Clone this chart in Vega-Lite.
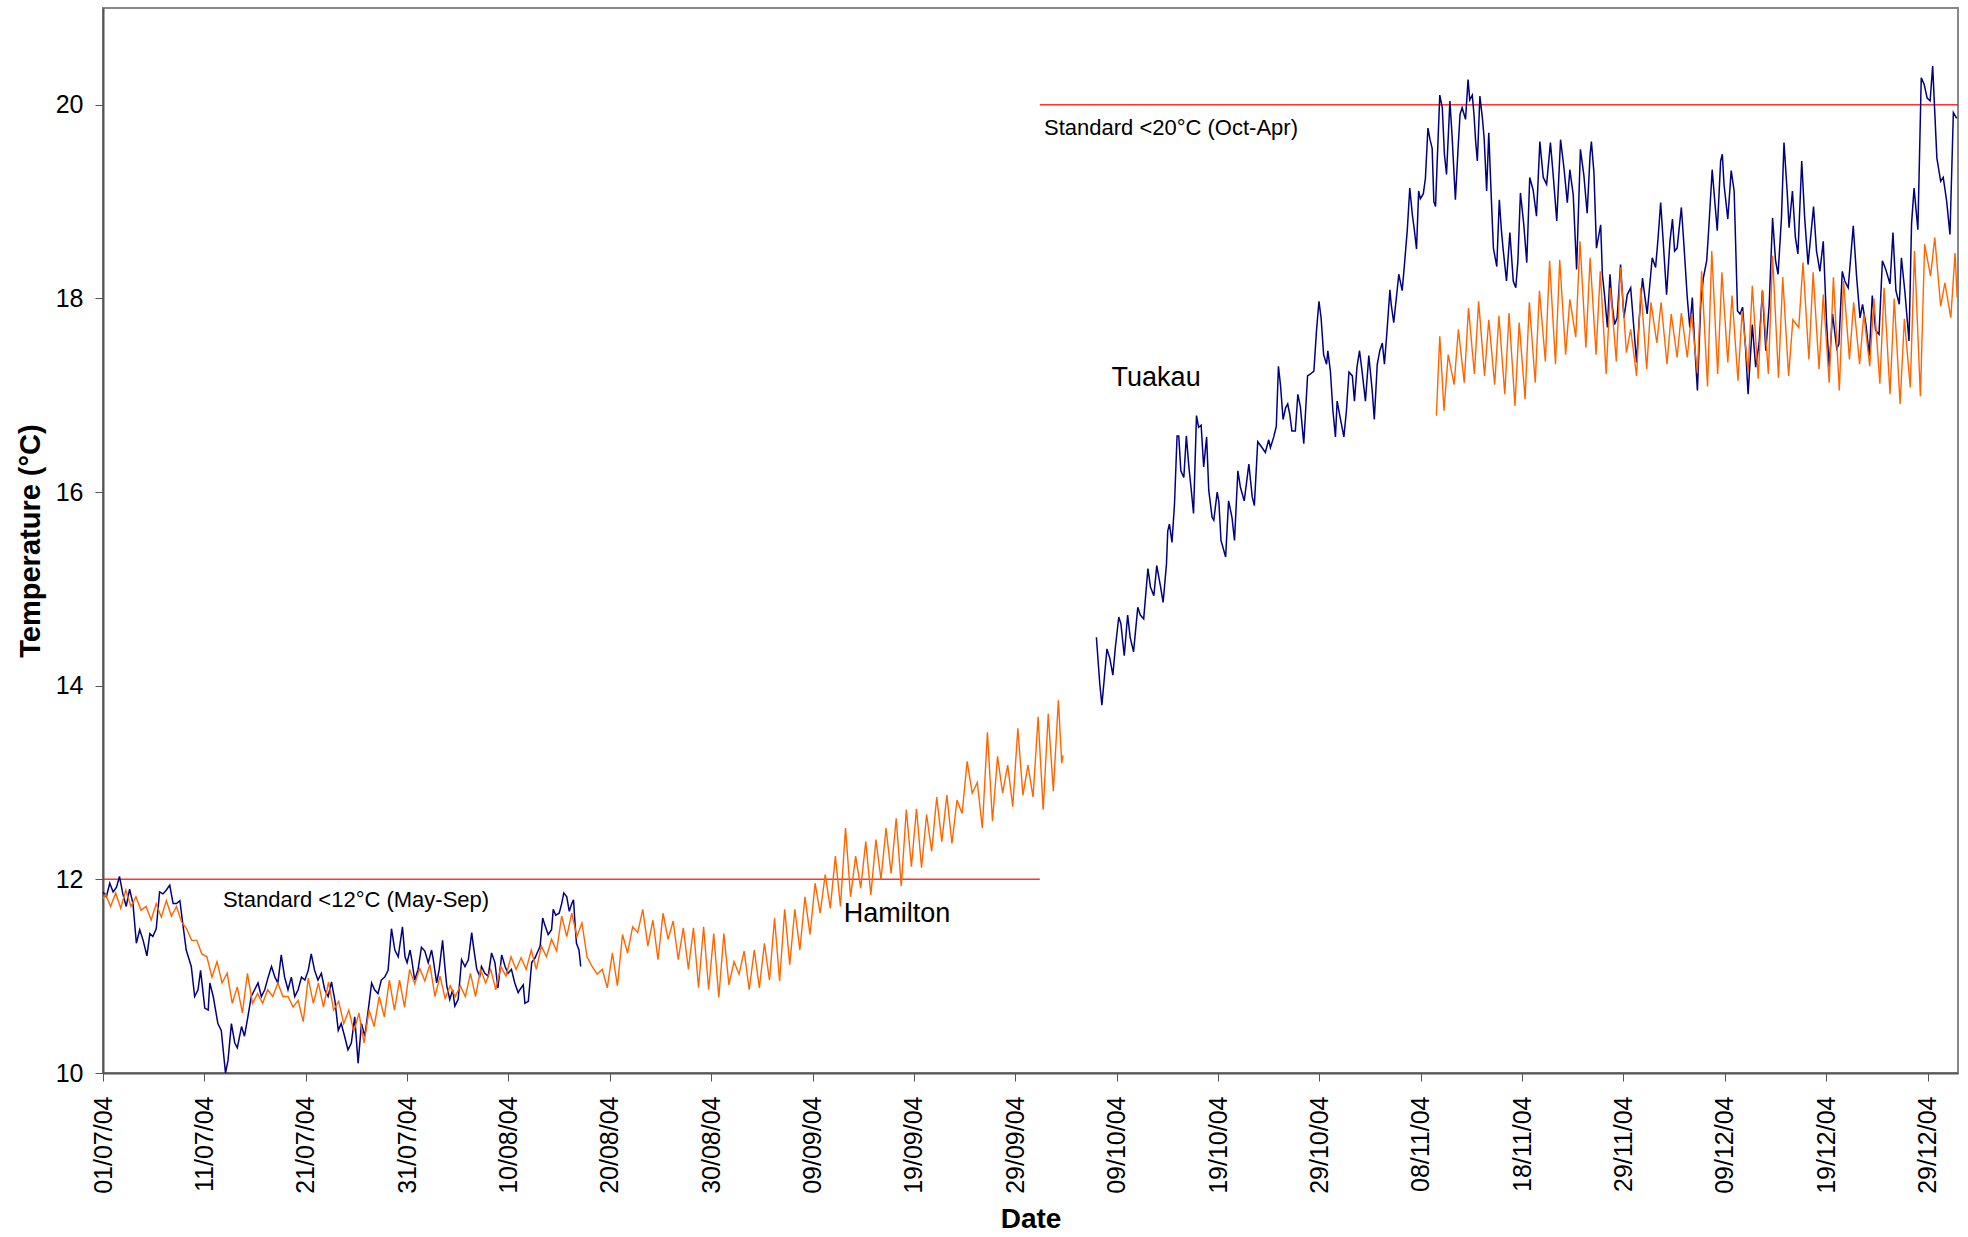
{
"$schema":"https://vega.github.io/schema/vega-lite/v6.json",
"background":"white",
"autosize":{"type":"none"},
"padding":{"left":103,"top":8,"right":10,"bottom":164},
"width":1855,
"height":1065,
"config":{"view":{"stroke":"#888888","strokeWidth":2},"font":"Liberation Sans"},
"datasets":{
"ham1":[
{"time":"2004-07-01T00:00","temp":11.8},
{"time":"2004-07-01T06:00","temp":11.85},{"time":"2004-07-01T18:00","temp":11.72},
{"time":"2004-07-02T06:00","temp":11.86},{"time":"2004-07-02T18:00","temp":11.7},
{"time":"2004-07-03T06:00","temp":11.89},{"time":"2004-07-03T18:00","temp":11.72},
{"time":"2004-07-04T06:00","temp":11.82},{"time":"2004-07-04T18:00","temp":11.68},
{"time":"2004-07-05T06:00","temp":11.72},{"time":"2004-07-05T18:00","temp":11.58},
{"time":"2004-07-06T06:00","temp":11.75},{"time":"2004-07-06T18:00","temp":11.61},
{"time":"2004-07-07T06:00","temp":11.78},{"time":"2004-07-07T18:00","temp":11.62},
{"time":"2004-07-08T06:00","temp":11.72},{"time":"2004-07-08T18:00","temp":11.56},
{"time":"2004-07-09T06:00","temp":11.49},{"time":"2004-07-09T18:00","temp":11.37},
{"time":"2004-07-10T06:00","temp":11.37},{"time":"2004-07-10T18:00","temp":11.23},
{"time":"2004-07-11T06:00","temp":11.2},{"time":"2004-07-11T18:00","temp":10.99},
{"time":"2004-07-12T06:00","temp":11.15},{"time":"2004-07-12T18:00","temp":10.93},
{"time":"2004-07-13T06:00","temp":11.03},{"time":"2004-07-13T18:00","temp":10.72},
{"time":"2004-07-14T06:00","temp":10.89},{"time":"2004-07-14T18:00","temp":10.62},
{"time":"2004-07-15T06:00","temp":11.03},{"time":"2004-07-15T18:00","temp":10.72},
{"time":"2004-07-16T06:00","temp":10.82},{"time":"2004-07-16T18:00","temp":10.72},
{"time":"2004-07-17T06:00","temp":10.86},{"time":"2004-07-17T18:00","temp":10.79},
{"time":"2004-07-18T06:00","temp":10.93},{"time":"2004-07-18T18:00","temp":10.79},
{"time":"2004-07-19T06:00","temp":10.79},{"time":"2004-07-19T18:00","temp":10.68},
{"time":"2004-07-20T06:00","temp":10.75},{"time":"2004-07-20T18:00","temp":10.53},
{"time":"2004-07-21T06:00","temp":10.98},{"time":"2004-07-21T18:00","temp":10.72},
{"time":"2004-07-22T06:00","temp":10.93},{"time":"2004-07-22T18:00","temp":10.68},
{"time":"2004-07-23T06:00","temp":10.94},{"time":"2004-07-23T18:00","temp":10.65},
{"time":"2004-07-24T06:00","temp":10.74},{"time":"2004-07-24T18:00","temp":10.51},
{"time":"2004-07-25T06:00","temp":10.65},{"time":"2004-07-25T18:00","temp":10.43},
{"time":"2004-07-26T06:00","temp":10.62},{"time":"2004-07-26T18:00","temp":10.31},
{"time":"2004-07-27T06:00","temp":10.65},{"time":"2004-07-27T18:00","temp":10.48},
{"time":"2004-07-28T06:00","temp":10.79},{"time":"2004-07-28T18:00","temp":10.58},
{"time":"2004-07-29T06:00","temp":10.96},{"time":"2004-07-29T18:00","temp":10.65},
{"time":"2004-07-30T06:00","temp":10.96},{"time":"2004-07-30T18:00","temp":10.68},
{"time":"2004-07-31T06:00","temp":11.07},{"time":"2004-07-31T18:00","temp":10.92},
{"time":"2004-08-01T06:00","temp":11.08},{"time":"2004-08-01T18:00","temp":10.95},
{"time":"2004-08-02T06:00","temp":11.12},{"time":"2004-08-02T18:00","temp":10.79},
{"time":"2004-08-03T06:00","temp":11.0},{"time":"2004-08-03T18:00","temp":10.77},
{"time":"2004-08-04T06:00","temp":10.9},{"time":"2004-08-04T18:00","temp":10.79},
{"time":"2004-08-05T06:00","temp":10.9},{"time":"2004-08-05T18:00","temp":10.79},
{"time":"2004-08-06T06:00","temp":11.03},{"time":"2004-08-06T18:00","temp":10.79},
{"time":"2004-08-07T06:00","temp":11.07},{"time":"2004-08-07T18:00","temp":10.93},
{"time":"2004-08-08T06:00","temp":11.07},{"time":"2004-08-08T18:00","temp":10.86},
{"time":"2004-08-09T06:00","temp":11.1},{"time":"2004-08-09T18:00","temp":11.0},
{"time":"2004-08-10T06:00","temp":11.2},{"time":"2004-08-10T18:00","temp":11.07},
{"time":"2004-08-11T06:00","temp":11.19},{"time":"2004-08-11T18:00","temp":11.07},
{"time":"2004-08-12T06:00","temp":11.27},{"time":"2004-08-12T18:00","temp":11.07},
{"time":"2004-08-13T06:00","temp":11.31},{"time":"2004-08-13T18:00","temp":11.2},
{"time":"2004-08-14T06:00","temp":11.38},{"time":"2004-08-14T18:00","temp":11.26},
{"time":"2004-08-15T06:00","temp":11.62},{"time":"2004-08-15T18:00","temp":11.41},
{"time":"2004-08-16T06:00","temp":11.65},{"time":"2004-08-16T18:00","temp":11.41},
{"time":"2004-08-17T06:00","temp":11.55},{"time":"2004-08-17T18:00","temp":11.2},
{"time":"2004-08-18T06:00","temp":11.1},{"time":"2004-08-18T18:00","temp":11.02},
{"time":"2004-08-19T06:00","temp":11.07},{"time":"2004-08-19T18:00","temp":10.88},
{"time":"2004-08-20T06:00","temp":11.24},{"time":"2004-08-20T18:00","temp":10.9},
{"time":"2004-08-21T06:00","temp":11.43},{"time":"2004-08-21T18:00","temp":11.24},
{"time":"2004-08-22T06:00","temp":11.51},{"time":"2004-08-22T18:00","temp":11.45},
{"time":"2004-08-23T06:00","temp":11.69},{"time":"2004-08-23T18:00","temp":11.31},
{"time":"2004-08-24T06:00","temp":11.58},{"time":"2004-08-24T18:00","temp":11.17},
{"time":"2004-08-25T06:00","temp":11.65},{"time":"2004-08-25T18:00","temp":11.38},
{"time":"2004-08-26T06:00","temp":11.57},{"time":"2004-08-26T18:00","temp":11.17},
{"time":"2004-08-27T06:00","temp":11.5},{"time":"2004-08-27T18:00","temp":11.07},
{"time":"2004-08-28T06:00","temp":11.5},{"time":"2004-08-28T18:00","temp":10.88},
{"time":"2004-08-29T06:00","temp":11.51},{"time":"2004-08-29T18:00","temp":10.86},
{"time":"2004-08-30T06:00","temp":11.44},{"time":"2004-08-30T18:00","temp":10.78},
{"time":"2004-08-31T06:00","temp":11.44},{"time":"2004-08-31T18:00","temp":10.91},
{"time":"2004-09-01T06:00","temp":11.15},{"time":"2004-09-01T18:00","temp":11.02},
{"time":"2004-09-02T06:00","temp":11.26},{"time":"2004-09-02T18:00","temp":10.86},
{"time":"2004-09-03T06:00","temp":11.27},{"time":"2004-09-03T18:00","temp":10.88},
{"time":"2004-09-04T06:00","temp":11.34},{"time":"2004-09-04T18:00","temp":10.96},
{"time":"2004-09-05T06:00","temp":11.6},{"time":"2004-09-05T18:00","temp":10.95},
{"time":"2004-09-06T06:00","temp":11.69},{"time":"2004-09-06T18:00","temp":11.12},
{"time":"2004-09-07T06:00","temp":11.69},{"time":"2004-09-07T18:00","temp":11.27},
{"time":"2004-09-08T06:00","temp":11.82},{"time":"2004-09-08T18:00","temp":11.43},
{"time":"2004-09-09T06:00","temp":11.96},{"time":"2004-09-09T18:00","temp":11.65},
{"time":"2004-09-10T06:00","temp":12.05},{"time":"2004-09-10T18:00","temp":11.7},
{"time":"2004-09-11T06:00","temp":12.24},{"time":"2004-09-11T18:00","temp":11.72},
{"time":"2004-09-12T06:00","temp":12.53},{"time":"2004-09-12T18:00","temp":11.82},
{"time":"2004-09-13T06:00","temp":12.24},{"time":"2004-09-13T18:00","temp":11.91},
{"time":"2004-09-14T06:00","temp":12.39},{"time":"2004-09-14T18:00","temp":11.84},
{"time":"2004-09-15T06:00","temp":12.41},{"time":"2004-09-15T18:00","temp":12.0},
{"time":"2004-09-16T06:00","temp":12.53},{"time":"2004-09-16T18:00","temp":12.06},
{"time":"2004-09-17T06:00","temp":12.63},{"time":"2004-09-17T18:00","temp":11.93},
{"time":"2004-09-18T06:00","temp":12.72},{"time":"2004-09-18T18:00","temp":12.13},
{"time":"2004-09-19T06:00","temp":12.73},{"time":"2004-09-19T18:00","temp":12.12},
{"time":"2004-09-20T06:00","temp":12.67},{"time":"2004-09-20T18:00","temp":12.29},
{"time":"2004-09-21T06:00","temp":12.85},{"time":"2004-09-21T18:00","temp":12.39},
{"time":"2004-09-22T06:00","temp":12.87},{"time":"2004-09-22T18:00","temp":12.37},
{"time":"2004-09-23T06:00","temp":12.82},{"time":"2004-09-23T18:00","temp":12.68},
{"time":"2004-09-24T06:00","temp":13.22},{"time":"2004-09-24T18:00","temp":12.89},
{"time":"2004-09-25T06:00","temp":13.0},{"time":"2004-09-25T18:00","temp":12.53},
{"time":"2004-09-26T06:00","temp":13.52},{"time":"2004-09-26T18:00","temp":12.6},
{"time":"2004-09-27T06:00","temp":13.27},{"time":"2004-09-27T18:00","temp":12.89},
{"time":"2004-09-28T06:00","temp":13.18},{"time":"2004-09-28T18:00","temp":12.75},
{"time":"2004-09-29T06:00","temp":13.56},{"time":"2004-09-29T18:00","temp":12.87},
{"time":"2004-09-30T06:00","temp":13.18},{"time":"2004-09-30T18:00","temp":12.85},
{"time":"2004-10-01T06:00","temp":13.68},{"time":"2004-10-01T18:00","temp":12.72},
{"time":"2004-10-02T06:00","temp":13.71},{"time":"2004-10-02T18:00","temp":12.91},
{"time":"2004-10-03T06:00","temp":13.85},{"time":"2004-10-03T14:00","temp":13.2},{"time":"2004-10-03T17:00","temp":13.28}
],
"ham2":[
{"time":"2004-11-09T13:00","temp":16.79},{"time":"2004-11-09T21:00","temp":17.61},
{"time":"2004-11-10T07:00","temp":16.84},{"time":"2004-11-10T17:00","temp":17.42},
{"time":"2004-11-11T07:00","temp":17.11},{"time":"2004-11-11T17:00","temp":17.68},
{"time":"2004-11-12T07:00","temp":17.13},{"time":"2004-11-12T17:00","temp":17.9},
{"time":"2004-11-13T07:00","temp":17.22},{"time":"2004-11-13T17:00","temp":17.97},
{"time":"2004-11-14T07:00","temp":17.2},{"time":"2004-11-14T17:00","temp":17.78},
{"time":"2004-11-15T07:00","temp":17.11},{"time":"2004-11-15T17:00","temp":17.82},
{"time":"2004-11-16T07:00","temp":17.01},{"time":"2004-11-16T17:00","temp":17.85},
{"time":"2004-11-17T07:00","temp":16.89},{"time":"2004-11-17T17:00","temp":17.75},
{"time":"2004-11-18T07:00","temp":16.96},{"time":"2004-11-18T17:00","temp":17.96},
{"time":"2004-11-19T07:00","temp":17.13},{"time":"2004-11-19T17:00","temp":18.08},
{"time":"2004-11-20T07:00","temp":17.35},{"time":"2004-11-20T17:00","temp":18.39},
{"time":"2004-11-21T07:00","temp":17.32},{"time":"2004-11-21T17:00","temp":18.4},
{"time":"2004-11-22T07:00","temp":17.42},{"time":"2004-11-22T17:00","temp":17.99},
{"time":"2004-11-23T07:00","temp":17.6},{"time":"2004-11-23T17:00","temp":18.59},
{"time":"2004-11-24T07:00","temp":17.49},{"time":"2004-11-24T17:00","temp":18.42},
{"time":"2004-11-25T07:00","temp":17.42},{"time":"2004-11-25T17:00","temp":18.28},
{"time":"2004-11-26T07:00","temp":17.22},{"time":"2004-11-26T17:00","temp":18.11},
{"time":"2004-11-27T07:00","temp":17.35},{"time":"2004-11-27T17:00","temp":18.32},
{"time":"2004-11-28T07:00","temp":17.44},{"time":"2004-11-28T17:00","temp":17.68},
{"time":"2004-11-29T07:00","temp":17.2},{"time":"2004-11-29T17:00","temp":18.11},
{"time":"2004-11-30T07:00","temp":17.27},{"time":"2004-11-30T17:00","temp":17.96},
{"time":"2004-12-01T07:00","temp":17.54},{"time":"2004-12-01T17:00","temp":17.96},
{"time":"2004-12-02T07:00","temp":17.32},{"time":"2004-12-02T17:00","temp":17.84},
{"time":"2004-12-03T07:00","temp":17.39},{"time":"2004-12-03T17:00","temp":17.85},
{"time":"2004-12-04T07:00","temp":17.39},{"time":"2004-12-04T17:00","temp":17.84},
{"time":"2004-12-05T07:00","temp":17.23},{"time":"2004-12-05T17:00","temp":18.28},
{"time":"2004-12-06T07:00","temp":17.09},{"time":"2004-12-06T17:00","temp":18.49},
{"time":"2004-12-07T07:00","temp":17.22},{"time":"2004-12-07T17:00","temp":18.27},
{"time":"2004-12-08T07:00","temp":17.34},{"time":"2004-12-08T17:00","temp":18.03},
{"time":"2004-12-09T07:00","temp":17.15},{"time":"2004-12-09T17:00","temp":17.87},
{"time":"2004-12-10T07:00","temp":17.24},{"time":"2004-12-10T17:00","temp":18.13},
{"time":"2004-12-11T07:00","temp":17.17},{"time":"2004-12-11T17:00","temp":18.09},
{"time":"2004-12-12T07:00","temp":17.22},{"time":"2004-12-12T17:00","temp":18.44},
{"time":"2004-12-13T07:00","temp":17.18},{"time":"2004-12-13T17:00","temp":18.22},
{"time":"2004-12-14T07:00","temp":17.2},{"time":"2004-12-14T17:00","temp":17.78},
{"time":"2004-12-15T07:00","temp":17.7},{"time":"2004-12-15T17:00","temp":18.37},
{"time":"2004-12-16T07:00","temp":17.37},{"time":"2004-12-16T17:00","temp":18.27},
{"time":"2004-12-17T07:00","temp":17.27},{"time":"2004-12-17T17:00","temp":18.04},
{"time":"2004-12-18T07:00","temp":17.13},{"time":"2004-12-18T17:00","temp":18.22},
{"time":"2004-12-19T07:00","temp":17.05},{"time":"2004-12-19T17:00","temp":18.18},
{"time":"2004-12-20T07:00","temp":17.37},{"time":"2004-12-20T17:00","temp":17.96},
{"time":"2004-12-21T07:00","temp":17.32},{"time":"2004-12-21T17:00","temp":17.84},
{"time":"2004-12-22T07:00","temp":17.3},{"time":"2004-12-22T17:00","temp":18.0},
{"time":"2004-12-23T07:00","temp":17.12},{"time":"2004-12-23T17:00","temp":18.11},
{"time":"2004-12-24T07:00","temp":17.01},{"time":"2004-12-24T17:00","temp":18.0},
{"time":"2004-12-25T07:00","temp":16.91},{"time":"2004-12-25T17:00","temp":17.79},
{"time":"2004-12-26T07:00","temp":17.08},{"time":"2004-12-26T17:00","temp":18.49},
{"time":"2004-12-27T07:00","temp":16.99},{"time":"2004-12-27T17:00","temp":18.56},
{"time":"2004-12-28T07:00","temp":18.23},{"time":"2004-12-28T17:00","temp":18.63},
{"time":"2004-12-29T07:00","temp":17.92},{"time":"2004-12-29T17:00","temp":18.16},
{"time":"2004-12-30T07:00","temp":17.8},{"time":"2004-12-30T17:00","temp":18.47},
{"time":"2004-12-30T22:00","temp":18.01}
],
"tua1":[
{"time":"2004-07-01T00:00","temp":11.87},{"time":"2004-07-01T08:00","temp":11.82},{"time":"2004-07-01T16:00","temp":11.96},
{"time":"2004-07-02T00:00","temp":11.87},{"time":"2004-07-02T08:00","temp":11.92},{"time":"2004-07-02T15:00","temp":12.03},{"time":"2004-07-02T23:00","temp":11.85},
{"time":"2004-07-03T07:00","temp":11.72},{"time":"2004-07-03T15:00","temp":11.9},{"time":"2004-07-03T23:00","temp":11.75},
{"time":"2004-07-04T07:00","temp":11.34},{"time":"2004-07-04T15:00","temp":11.48},{"time":"2004-07-04T23:00","temp":11.37},
{"time":"2004-07-05T08:00","temp":11.21},{"time":"2004-07-05T15:00","temp":11.44},{"time":"2004-07-05T22:00","temp":11.41},
{"time":"2004-07-06T06:00","temp":11.49},{"time":"2004-07-06T14:00","temp":11.87},{"time":"2004-07-06T22:00","temp":11.85},
{"time":"2004-07-07T06:00","temp":11.89},{"time":"2004-07-07T14:00","temp":11.94},{"time":"2004-07-07T22:00","temp":11.75},
{"time":"2004-07-08T06:00","temp":11.75},{"time":"2004-07-08T14:00","temp":11.78},{"time":"2004-07-08T21:00","temp":11.54},
{"time":"2004-07-09T05:00","temp":11.27},{"time":"2004-07-09T17:00","temp":11.1},
{"time":"2004-07-10T01:00","temp":10.79},{"time":"2004-07-10T09:00","temp":10.86},{"time":"2004-07-10T15:00","temp":11.06},
{"time":"2004-07-11T01:00","temp":10.67},{"time":"2004-07-11T09:00","temp":10.65},{"time":"2004-07-11T13:00","temp":10.93},{"time":"2004-07-11T21:00","temp":10.79},
{"time":"2004-07-12T08:00","temp":10.51},{"time":"2004-07-12T16:00","temp":10.44},
{"time":"2004-07-13T02:00","temp":10.0},{"time":"2004-07-13T08:00","temp":10.13},{"time":"2004-07-13T16:00","temp":10.51},
{"time":"2004-07-14T00:00","temp":10.31},{"time":"2004-07-14T06:00","temp":10.26},{"time":"2004-07-14T16:00","temp":10.48},{"time":"2004-07-14T23:00","temp":10.38},
{"time":"2004-07-15T07:00","temp":10.58},{"time":"2004-07-15T15:00","temp":10.79},{"time":"2004-07-15T23:00","temp":10.86},
{"time":"2004-07-16T07:00","temp":10.93},{"time":"2004-07-16T15:00","temp":10.79},{"time":"2004-07-16T23:00","temp":10.86},
{"time":"2004-07-17T07:00","temp":10.99},{"time":"2004-07-17T15:00","temp":11.1},{"time":"2004-07-17T23:00","temp":10.99},
{"time":"2004-07-18T06:00","temp":10.93},{"time":"2004-07-18T14:00","temp":11.22},{"time":"2004-07-18T22:00","temp":10.99},
{"time":"2004-07-19T06:00","temp":10.86},{"time":"2004-07-19T14:00","temp":10.99},{"time":"2004-07-19T22:00","temp":10.79},
{"time":"2004-07-20T06:00","temp":10.86},{"time":"2004-07-20T14:00","temp":10.99},{"time":"2004-07-20T22:00","temp":10.96},
{"time":"2004-07-21T06:00","temp":11.06},{"time":"2004-07-21T13:00","temp":11.23},{"time":"2004-07-21T21:00","temp":11.06},
{"time":"2004-07-22T05:00","temp":10.96},{"time":"2004-07-22T13:00","temp":11.03},{"time":"2004-07-22T21:00","temp":10.86},
{"time":"2004-07-23T05:00","temp":10.79},{"time":"2004-07-23T13:00","temp":10.94},{"time":"2004-07-23T21:00","temp":10.75},
{"time":"2004-07-24T05:00","temp":10.44},{"time":"2004-07-24T12:00","temp":10.51},{"time":"2004-07-24T20:00","temp":10.38},
{"time":"2004-07-25T04:00","temp":10.24},{"time":"2004-07-25T12:00","temp":10.31},{"time":"2004-07-25T20:00","temp":10.58},
{"time":"2004-07-26T04:00","temp":10.1},{"time":"2004-07-26T12:00","temp":10.51},{"time":"2004-07-26T20:00","temp":10.38},
{"time":"2004-07-27T04:00","temp":10.65},{"time":"2004-07-27T12:00","temp":10.93},{"time":"2004-07-27T19:00","temp":10.86},
{"time":"2004-07-28T03:00","temp":10.82},{"time":"2004-07-28T11:00","temp":10.96},{"time":"2004-07-28T19:00","temp":10.99},
{"time":"2004-07-29T03:00","temp":11.06},{"time":"2004-07-29T11:00","temp":11.49},{"time":"2004-07-29T19:00","temp":11.27},
{"time":"2004-07-30T03:00","temp":11.2},{"time":"2004-07-30T13:00","temp":11.51},{"time":"2004-07-30T19:00","temp":11.2},
{"time":"2004-07-31T00:00","temp":11.14},{"time":"2004-07-31T07:00","temp":11.27},{"time":"2004-07-31T11:00","temp":11.17},{"time":"2004-07-31T18:00","temp":10.96},
{"time":"2004-08-01T02:00","temp":11.07},{"time":"2004-08-01T10:00","temp":11.3},{"time":"2004-08-01T18:00","temp":11.26},
{"time":"2004-08-02T02:00","temp":11.14},{"time":"2004-08-02T10:00","temp":11.27},{"time":"2004-08-02T14:00","temp":11.17},{"time":"2004-08-02T22:00","temp":10.93},
{"time":"2004-08-03T04:00","temp":11.07},{"time":"2004-08-03T12:00","temp":11.37},{"time":"2004-08-03T18:00","temp":11.07},{"time":"2004-08-03T22:00","temp":10.9},
{"time":"2004-08-04T05:00","temp":10.76},{"time":"2004-08-04T12:00","temp":10.86},{"time":"2004-08-04T17:00","temp":10.69},
{"time":"2004-08-05T01:00","temp":10.76},{"time":"2004-08-05T09:00","temp":11.17},{"time":"2004-08-05T17:00","temp":11.1},
{"time":"2004-08-06T01:00","temp":11.17},{"time":"2004-08-06T09:00","temp":11.45},{"time":"2004-08-06T13:00","temp":11.31},{"time":"2004-08-06T21:00","temp":11.07},
{"time":"2004-08-07T04:00","temp":11.0},{"time":"2004-08-07T08:00","temp":11.1},{"time":"2004-08-07T16:00","temp":11.03},
{"time":"2004-08-08T00:00","temp":11.0},{"time":"2004-08-08T08:00","temp":11.24},{"time":"2004-08-08T16:00","temp":11.14},{"time":"2004-08-08T23:00","temp":10.88},
{"time":"2004-08-09T08:00","temp":11.22},{"time":"2004-08-09T16:00","temp":11.1},{"time":"2004-08-09T23:00","temp":11.03},
{"time":"2004-08-10T07:00","temp":11.07},{"time":"2004-08-10T15:00","temp":10.93},{"time":"2004-08-10T23:00","temp":10.83},
{"time":"2004-08-11T03:00","temp":10.86},{"time":"2004-08-11T11:00","temp":10.91},{"time":"2004-08-11T15:00","temp":10.72},{"time":"2004-08-11T23:00","temp":10.74},
{"time":"2004-08-12T07:00","temp":11.14},{"time":"2004-08-12T15:00","temp":11.19},{"time":"2004-08-12T23:00","temp":11.27},
{"time":"2004-08-13T03:00","temp":11.31},{"time":"2004-08-13T09:00","temp":11.6},{"time":"2004-08-13T14:00","temp":11.53},{"time":"2004-08-13T22:00","temp":11.43},
{"time":"2004-08-14T06:00","temp":11.48},{"time":"2004-08-14T10:00","temp":11.69},{"time":"2004-08-14T16:00","temp":11.63},
{"time":"2004-08-15T00:00","temp":11.65},{"time":"2004-08-15T06:00","temp":11.75},{"time":"2004-08-15T11:00","temp":11.86},{"time":"2004-08-15T18:00","temp":11.82},
{"time":"2004-08-16T00:00","temp":11.67},{"time":"2004-08-16T06:00","temp":11.75},{"time":"2004-08-16T10:00","temp":11.79},{"time":"2004-08-16T13:00","temp":11.58},{"time":"2004-08-16T17:00","temp":11.34},{"time":"2004-08-16T23:00","temp":11.27},
{"time":"2004-08-17T03:00","temp":11.1}
],
"tua2":[
{"time":"2004-10-07T00:00","temp":14.5},{"time":"2004-10-07T08:00","temp":14.02},{"time":"2004-10-07T13:00","temp":13.8},{"time":"2004-10-07T19:00","temp":14.09},
{"time":"2004-10-08T01:00","temp":14.38},{"time":"2004-10-08T08:00","temp":14.28},{"time":"2004-10-08T15:00","temp":14.11},{"time":"2004-10-08T21:00","temp":14.4},
{"time":"2004-10-09T05:00","temp":14.71},{"time":"2004-10-09T10:00","temp":14.64},{"time":"2004-10-09T18:00","temp":14.31},
{"time":"2004-10-10T02:00","temp":14.73},{"time":"2004-10-10T08:00","temp":14.5},{"time":"2004-10-10T16:00","temp":14.35},
{"time":"2004-10-11T02:00","temp":14.81},{"time":"2004-10-11T08:00","temp":14.73},{"time":"2004-10-11T16:00","temp":14.69},
{"time":"2004-10-12T02:00","temp":15.21},{"time":"2004-10-12T08:00","temp":15.02},{"time":"2004-10-12T16:00","temp":14.93},{"time":"2004-10-12T23:00","temp":15.24},
{"time":"2004-10-13T08:00","temp":15.02},{"time":"2004-10-13T14:00","temp":14.86},{"time":"2004-10-13T22:00","temp":15.26},
{"time":"2004-10-14T01:00","temp":15.6},{"time":"2004-10-14T05:00","temp":15.67},{"time":"2004-10-14T11:00","temp":15.48},{"time":"2004-10-14T17:00","temp":15.88},{"time":"2004-10-14T23:00","temp":16.58},
{"time":"2004-10-15T03:00","temp":16.58},{"time":"2004-10-15T08:00","temp":16.22},{"time":"2004-10-15T15:00","temp":16.15},{"time":"2004-10-15T21:00","temp":16.58},
{"time":"2004-10-16T03:00","temp":16.26},{"time":"2004-10-16T08:00","temp":16.05},{"time":"2004-10-16T14:00","temp":15.78},{"time":"2004-10-16T21:00","temp":16.79},
{"time":"2004-10-17T02:00","temp":16.67},{"time":"2004-10-17T08:00","temp":16.69},{"time":"2004-10-17T14:00","temp":16.26},{"time":"2004-10-17T21:00","temp":16.57},
{"time":"2004-10-18T02:00","temp":16.02},{"time":"2004-10-18T10:00","temp":15.74},{"time":"2004-10-18T14:00","temp":15.71},{"time":"2004-10-18T22:00","temp":16.0},
{"time":"2004-10-19T02:00","temp":15.9},{"time":"2004-10-19T07:00","temp":15.5},{"time":"2004-10-19T18:00","temp":15.33},
{"time":"2004-10-20T01:00","temp":15.91},{"time":"2004-10-20T09:00","temp":15.74},{"time":"2004-10-20T15:00","temp":15.5},{"time":"2004-10-20T23:00","temp":16.22},
{"time":"2004-10-21T05:00","temp":16.05},{"time":"2004-10-21T14:00","temp":15.91},{"time":"2004-10-21T21:00","temp":16.15},
{"time":"2004-10-22T01:00","temp":16.29},{"time":"2004-10-22T09:00","temp":15.95},{"time":"2004-10-22T14:00","temp":15.86},{"time":"2004-10-22T22:00","temp":16.52},
{"time":"2004-10-23T08:00","temp":16.46},{"time":"2004-10-23T16:00","temp":16.41},
{"time":"2004-10-24T00:00","temp":16.54},{"time":"2004-10-24T04:00","temp":16.46},{"time":"2004-10-24T12:00","temp":16.57},{"time":"2004-10-24T18:00","temp":16.68},{"time":"2004-10-24T23:00","temp":17.3},
{"time":"2004-10-25T04:00","temp":17.1},{"time":"2004-10-25T10:00","temp":16.75},{"time":"2004-10-25T16:00","temp":16.87},{"time":"2004-10-25T21:00","temp":16.91},
{"time":"2004-10-26T02:00","temp":16.8},{"time":"2004-10-26T07:00","temp":16.63},{"time":"2004-10-26T15:00","temp":16.63},{"time":"2004-10-26T21:00","temp":17.01},
{"time":"2004-10-27T03:00","temp":16.88},{"time":"2004-10-27T11:00","temp":16.5},{"time":"2004-10-27T20:00","temp":17.2},
{"time":"2004-10-28T03:00","temp":17.22},{"time":"2004-10-28T11:00","temp":17.25},{"time":"2004-10-28T17:00","temp":17.66},{"time":"2004-10-28T23:00","temp":17.97},
{"time":"2004-10-29T04:00","temp":17.8},{"time":"2004-10-29T10:00","temp":17.42},{"time":"2004-10-29T17:00","temp":17.32},{"time":"2004-10-29T20:00","temp":17.46},
{"time":"2004-10-30T02:00","temp":17.25},{"time":"2004-10-30T08:00","temp":16.84},{"time":"2004-10-30T14:00","temp":16.57},{"time":"2004-10-30T18:00","temp":16.94},
{"time":"2004-10-31T02:00","temp":16.75},{"time":"2004-10-31T10:00","temp":16.57},{"time":"2004-10-31T16:00","temp":16.84},{"time":"2004-10-31T22:00","temp":17.24},
{"time":"2004-11-01T06:00","temp":17.2},{"time":"2004-11-01T11:00","temp":16.94},{"time":"2004-11-01T17:00","temp":17.29},{"time":"2004-11-01T23:00","temp":17.46},
{"time":"2004-11-02T05:00","temp":17.25},{"time":"2004-11-02T13:00","temp":16.94},{"time":"2004-11-02T21:00","temp":17.41},
{"time":"2004-11-03T05:00","temp":17.05},{"time":"2004-11-03T10:00","temp":16.75},{"time":"2004-11-03T17:00","temp":17.32},{"time":"2004-11-03T23:00","temp":17.46},
{"time":"2004-11-04T05:00","temp":17.54},{"time":"2004-11-04T10:00","temp":17.32},{"time":"2004-11-04T16:00","temp":17.66},{"time":"2004-11-04T23:00","temp":18.09},
{"time":"2004-11-05T02:00","temp":17.94},{"time":"2004-11-05T08:00","temp":17.75},{"time":"2004-11-05T16:00","temp":18.08},{"time":"2004-11-05T20:00","temp":18.25},
{"time":"2004-11-06T04:00","temp":18.08},{"time":"2004-11-06T09:00","temp":18.33},{"time":"2004-11-06T16:00","temp":18.7},{"time":"2004-11-06T22:00","temp":19.14},
{"time":"2004-11-07T04:00","temp":18.87},{"time":"2004-11-07T09:00","temp":18.7},{"time":"2004-11-07T14:00","temp":18.51},{"time":"2004-11-07T19:00","temp":19.11},{"time":"2004-11-07T23:00","temp":19.03},
{"time":"2004-11-08T06:00","temp":19.08},{"time":"2004-11-08T11:00","temp":19.24},{"time":"2004-11-08T17:00","temp":19.76},{"time":"2004-11-08T22:00","temp":19.64},
{"time":"2004-11-09T03:00","temp":19.55},{"time":"2004-11-09T07:00","temp":19.0},{"time":"2004-11-09T11:00","temp":18.95},{"time":"2004-11-09T15:00","temp":19.42},{"time":"2004-11-09T21:00","temp":20.1},
{"time":"2004-11-10T03:00","temp":19.97},{"time":"2004-11-10T08:00","temp":19.49},{"time":"2004-11-10T13:00","temp":19.28},{"time":"2004-11-10T21:00","temp":20.04},
{"time":"2004-11-11T02:00","temp":19.69},{"time":"2004-11-11T10:00","temp":19.02},{"time":"2004-11-11T16:00","temp":19.52},{"time":"2004-11-11T21:00","temp":19.9},
{"time":"2004-11-12T02:00","temp":19.97},{"time":"2004-11-12T10:00","temp":19.85},{"time":"2004-11-12T16:00","temp":20.26},{"time":"2004-11-12T20:00","temp":20.05},
{"time":"2004-11-13T02:00","temp":20.1},{"time":"2004-11-13T06:00","temp":19.9},{"time":"2004-11-13T10:00","temp":19.62},{"time":"2004-11-13T14:00","temp":19.42},{"time":"2004-11-13T20:00","temp":20.09},
{"time":"2004-11-14T02:00","temp":19.86},{"time":"2004-11-14T06:00","temp":19.66},{"time":"2004-11-14T12:00","temp":19.11},{"time":"2004-11-14T17:00","temp":19.71},{"time":"2004-11-14T23:00","temp":19.04},
{"time":"2004-11-15T04:00","temp":18.52},{"time":"2004-11-15T12:00","temp":18.33},{"time":"2004-11-15T18:00","temp":19.02},{"time":"2004-11-15T23:00","temp":18.7},
{"time":"2004-11-16T03:00","temp":18.51},{"time":"2004-11-16T11:00","temp":18.18},{"time":"2004-11-16T19:00","temp":18.68},
{"time":"2004-11-17T03:00","temp":18.18},{"time":"2004-11-17T09:00","temp":18.11},{"time":"2004-11-17T14:00","temp":18.39},{"time":"2004-11-17T20:00","temp":19.09},
{"time":"2004-11-18T04:00","temp":18.76},{"time":"2004-11-18T11:00","temp":18.37},{"time":"2004-11-18T18:00","temp":19.25},
{"time":"2004-11-19T02:00","temp":19.12},{"time":"2004-11-19T10:00","temp":18.85},{"time":"2004-11-19T18:00","temp":19.62},
{"time":"2004-11-20T02:00","temp":19.25},{"time":"2004-11-20T10:00","temp":19.18},{"time":"2004-11-20T19:00","temp":19.61},
{"time":"2004-11-21T02:00","temp":19.25},{"time":"2004-11-21T10:00","temp":18.8},{"time":"2004-11-21T19:00","temp":19.64},
{"time":"2004-11-22T03:00","temp":19.35},{"time":"2004-11-22T11:00","temp":18.99},{"time":"2004-11-22T17:00","temp":19.33},
{"time":"2004-11-23T01:00","temp":19.07},{"time":"2004-11-23T09:00","temp":18.3},{"time":"2004-11-23T18:00","temp":19.54},
{"time":"2004-11-24T02:00","temp":19.28},{"time":"2004-11-24T10:00","temp":18.88},{"time":"2004-11-24T17:00","temp":19.49},{"time":"2004-11-24T20:00","temp":19.62},
{"time":"2004-11-25T02:00","temp":19.3},{"time":"2004-11-25T08:00","temp":18.52},{"time":"2004-11-25T18:00","temp":18.76},{"time":"2004-11-25T22:00","temp":18.25},
{"time":"2004-11-26T03:00","temp":18.04},{"time":"2004-11-26T10:00","temp":17.7},{"time":"2004-11-26T16:00","temp":18.25},{"time":"2004-11-26T21:00","temp":17.94},
{"time":"2004-11-27T03:00","temp":17.73},{"time":"2004-11-27T09:00","temp":17.8},{"time":"2004-11-27T17:00","temp":18.35},
{"time":"2004-11-28T01:00","temp":17.8},{"time":"2004-11-28T09:00","temp":18.04},{"time":"2004-11-28T17:00","temp":18.11},
{"time":"2004-11-29T01:00","temp":17.67},{"time":"2004-11-29T07:00","temp":17.34},{"time":"2004-11-29T13:00","temp":17.77},{"time":"2004-11-29T21:00","temp":18.21},
{"time":"2004-11-30T02:00","temp":18.04},{"time":"2004-11-30T08:00","temp":17.84},{"time":"2004-11-30T20:00","temp":18.42},
{"time":"2004-12-01T04:00","temp":18.32},{"time":"2004-12-01T10:00","temp":18.63},{"time":"2004-12-01T16:00","temp":18.99},{"time":"2004-12-01T22:00","temp":18.59},
{"time":"2004-12-02T06:00","temp":18.04},{"time":"2004-12-02T14:00","temp":18.59},{"time":"2004-12-02T20:00","temp":18.82},
{"time":"2004-12-03T01:00","temp":18.49},{"time":"2004-12-03T07:00","temp":18.52},{"time":"2004-12-03T17:00","temp":18.94},{"time":"2004-12-03T23:00","temp":18.56},
{"time":"2004-12-04T07:00","temp":18.01},{"time":"2004-12-04T13:00","temp":17.7},{"time":"2004-12-04T19:00","temp":18.01},
{"time":"2004-12-05T00:00","temp":17.56},{"time":"2004-12-05T07:00","temp":17.05},{"time":"2004-12-05T15:00","temp":17.95},{"time":"2004-12-05T21:00","temp":18.21},
{"time":"2004-12-06T05:00","temp":18.39},{"time":"2004-12-06T10:00","temp":18.73},{"time":"2004-12-06T18:00","temp":19.33},
{"time":"2004-12-07T00:00","temp":19.01},{"time":"2004-12-07T06:00","temp":18.7},{"time":"2004-12-07T14:00","temp":19.42},{"time":"2004-12-07T18:00","temp":19.49},{"time":"2004-12-07T22:00","temp":19.18},
{"time":"2004-12-08T07:00","temp":18.82},{"time":"2004-12-08T15:00","temp":19.32},{"time":"2004-12-08T22:00","temp":19.11},
{"time":"2004-12-09T06:00","temp":17.87},{"time":"2004-12-09T12:00","temp":17.84},{"time":"2004-12-09T18:00","temp":17.91},
{"time":"2004-12-10T01:00","temp":17.49},{"time":"2004-12-10T07:00","temp":17.01},{"time":"2004-12-10T17:00","temp":17.73},
{"time":"2004-12-11T01:00","temp":17.29},{"time":"2004-12-11T09:00","temp":17.53},{"time":"2004-12-11T17:00","temp":18.08},
{"time":"2004-12-12T01:00","temp":17.46},{"time":"2004-12-12T09:00","temp":17.94},{"time":"2004-12-12T17:00","temp":18.83},
{"time":"2004-12-13T00:00","temp":18.39},{"time":"2004-12-13T06:00","temp":18.25},{"time":"2004-12-13T14:00","temp":18.83},{"time":"2004-12-13T20:00","temp":19.61},
{"time":"2004-12-14T04:00","temp":19.07},{"time":"2004-12-14T08:00","temp":18.73},{"time":"2004-12-14T16:00","temp":19.11},{"time":"2004-12-14T23:00","temp":18.63},
{"time":"2004-12-15T05:00","temp":18.46},{"time":"2004-12-15T14:00","temp":19.42},{"time":"2004-12-15T21:00","temp":18.83},
{"time":"2004-12-16T05:00","temp":18.35},{"time":"2004-12-16T11:00","temp":18.63},{"time":"2004-12-16T18:00","temp":18.95},
{"time":"2004-12-17T01:00","temp":18.49},{"time":"2004-12-17T09:00","temp":18.28},{"time":"2004-12-17T17:00","temp":18.59},
{"time":"2004-12-18T01:00","temp":17.73},{"time":"2004-12-18T07:00","temp":17.29},{"time":"2004-12-18T15:00","temp":17.84},
{"time":"2004-12-19T01:00","temp":17.48},{"time":"2004-12-19T06:00","temp":17.53},{"time":"2004-12-19T14:00","temp":18.28},{"time":"2004-12-19T20:00","temp":18.18},
{"time":"2004-12-20T04:00","temp":18.11},{"time":"2004-12-20T08:00","temp":18.32},{"time":"2004-12-20T16:00","temp":18.75},
{"time":"2004-12-21T00:00","temp":18.22},{"time":"2004-12-21T08:00","temp":17.8},{"time":"2004-12-21T14:00","temp":17.94},{"time":"2004-12-21T22:00","temp":17.73},
{"time":"2004-12-22T06:00","temp":17.41},{"time":"2004-12-22T13:00","temp":18.03},{"time":"2004-12-22T21:00","temp":17.67},
{"time":"2004-12-23T05:00","temp":17.63},{"time":"2004-12-23T13:00","temp":18.39},{"time":"2004-12-23T21:00","temp":18.3},
{"time":"2004-12-24T07:00","temp":18.15},{"time":"2004-12-24T14:00","temp":18.68},{"time":"2004-12-24T21:00","temp":18.08},
{"time":"2004-12-25T05:00","temp":17.94},{"time":"2004-12-25T10:00","temp":18.42},{"time":"2004-12-25T18:00","temp":18.08},
{"time":"2004-12-26T04:00","temp":17.56},{"time":"2004-12-26T10:00","temp":18.77},{"time":"2004-12-26T16:00","temp":19.14},
{"time":"2004-12-27T01:00","temp":18.71},{"time":"2004-12-27T09:00","temp":20.28},{"time":"2004-12-27T16:00","temp":20.21},{"time":"2004-12-27T23:00","temp":20.07},
{"time":"2004-12-28T06:00","temp":20.04},{"time":"2004-12-28T12:00","temp":20.4},{"time":"2004-12-28T22:00","temp":19.45},
{"time":"2004-12-29T07:00","temp":19.21},{"time":"2004-12-29T13:00","temp":19.25},{"time":"2004-12-29T21:00","temp":19.01},
{"time":"2004-12-30T05:00","temp":18.66},{"time":"2004-12-30T13:00","temp":19.92},{"time":"2004-12-30T21:00","temp":19.86}
]
},
"encoding":{
"x":{"field":"time","type":"temporal","title":"Date",
"scale":{"domain":[{"year":2004,"month":7,"date":1},{"year":2004,"month":12,"date":31}]},
"axis":{"values":[{"year":2004,"month":7,"date":1},{"year":2004,"month":7,"date":11},{"year":2004,"month":7,"date":21},{"year":2004,"month":7,"date":31},{"year":2004,"month":8,"date":10},{"year":2004,"month":8,"date":20},{"year":2004,"month":8,"date":30},{"year":2004,"month":9,"date":9},{"year":2004,"month":9,"date":19},{"year":2004,"month":9,"date":29},{"year":2004,"month":10,"date":9},{"year":2004,"month":10,"date":19},{"year":2004,"month":10,"date":29},{"year":2004,"month":11,"date":8},{"year":2004,"month":11,"date":18},{"year":2004,"month":11,"date":28},{"year":2004,"month":12,"date":8},{"year":2004,"month":12,"date":18},{"year":2004,"month":12,"date":28}],
"labelExpr":"timeFormat(time(datum.value) > time(datetime(2004,10,20)) ? time(datum.value) + 86400000 : time(datum.value), '%d/%m/%y')",
"labelAngle":270,"labelFontSize":25,"labelFont":"Liberation Sans","labelColor":"#000000","labelPadding":15,"labelOverlap":false,"labelBound":false,"labelFlush":false,
"tickSize":8,"tickColor":"#555555","domainColor":"#555555","domainWidth":2,"grid":false,
"titleFont":"Liberation Sans","titleFontSize":28,"titleFontWeight":"bold","titleColor":"#000000","titlePadding":12}},
"y":{"field":"temp","type":"quantitative","title":"Temperature (°C)",
"scale":{"domain":[10,21],"nice":false,"zero":false},
"axis":{"values":[10,12,14,16,18,20],"labelFontSize":25,"labelFont":"Liberation Sans","labelColor":"#000000","labelPadding":12,
"tickSize":8,"tickColor":"#555555","domainColor":"#555555","domainWidth":2,"grid":false,
"titleFont":"Liberation Sans","titleFontSize":29,"titleFontWeight":"bold","titleColor":"#000000","titlePadding":10}}
},
"layer":[
{"data":{"values":[{"time":"2004-07-01T00:00","time2":"2004-10-01T10:00","temp":12},{"time":"2004-10-01T10:00","time2":"2004-12-31T00:00","temp":20}]},
"mark":{"type":"rule","color":"#ff0000","strokeWidth":1.5,"opacity":0.8},
"encoding":{"x2":{"field":"time2"}}},
{"data":{"name":"tua1"},"mark":{"type":"line","color":"#000080","strokeWidth":1.5},"encoding":{}},
{"data":{"name":"tua2"},"mark":{"type":"line","color":"#000080","strokeWidth":1.5},"encoding":{}},
{"data":{"name":"ham1"},"mark":{"type":"line","color":"#ff6600","strokeWidth":1.4},"encoding":{}},
{"data":{"name":"ham2"},"mark":{"type":"line","color":"#ff6600","strokeWidth":1.4},"encoding":{}},
{"data":{"values":[{"time":"2004-07-12T20:00","temp":11.79,"label":"Standard <12°C (May-Sep)"},{"time":"2004-10-01T20:00","temp":19.76,"label":"Standard <20°C (Oct-Apr)"}]},
"mark":{"type":"text","align":"left","baseline":"middle","fontSize":22,"font":"Liberation Sans","color":"#000000"},
"encoding":{"text":{"field":"label"}}},
{"data":{"values":[{"time":"2004-10-08T12:00","temp":17.18,"label":"Tuakau"},{"time":"2004-09-12T02:00","temp":11.64,"label":"Hamilton"}]},
"mark":{"type":"text","align":"left","baseline":"middle","fontSize":27,"font":"Liberation Sans","color":"#000000"},
"encoding":{"text":{"field":"label"}}}
]
}
